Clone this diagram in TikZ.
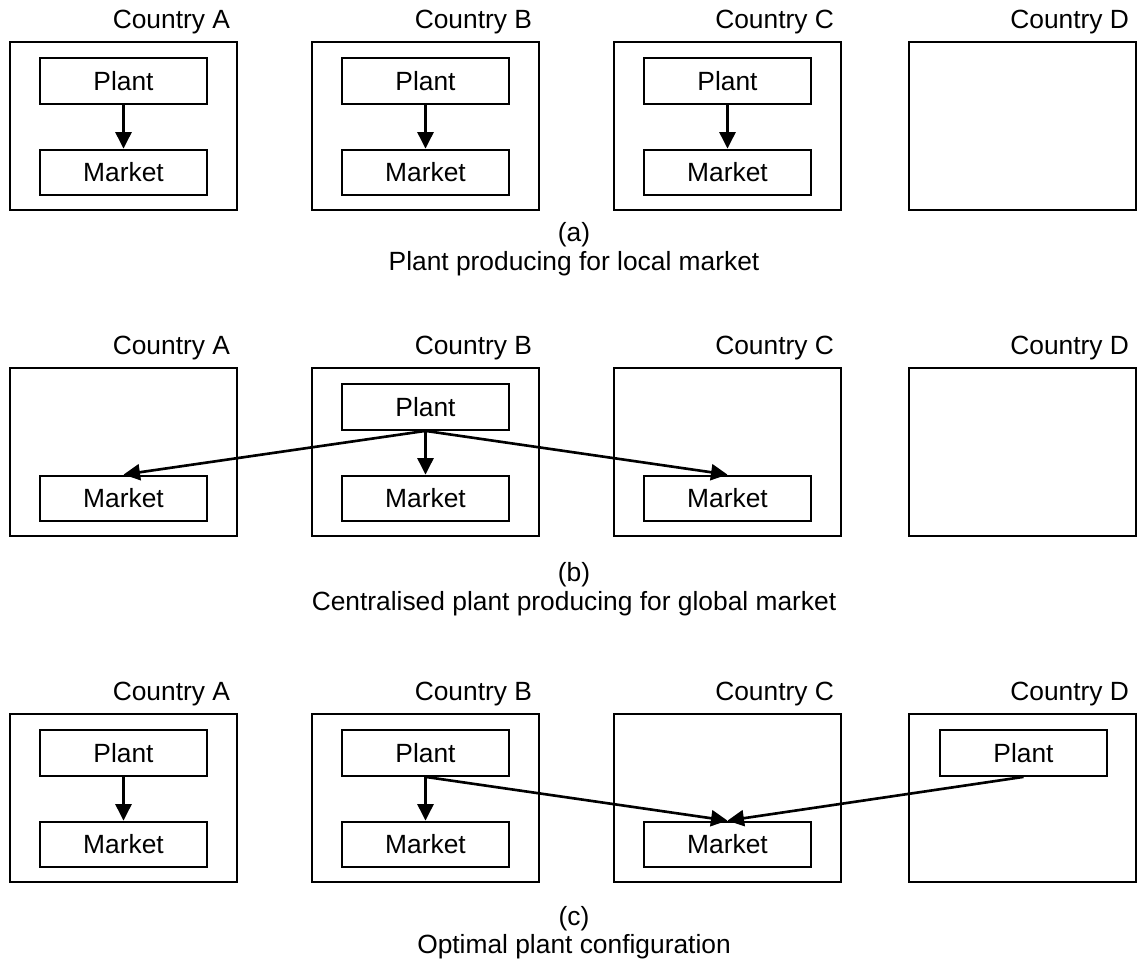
\documentclass[tikz,border=0pt]{standalone}
\usepackage{fontspec}
\setmainfont{Liberation Sans}
\usetikzlibrary{arrows.meta}

\begin{document}
\begin{tikzpicture}[x=0.02cm, y=-0.02cm,
  font=\fontsize{15}{18}\selectfont,
  country/.style={draw, line width=1.5pt, minimum width=4.54cm, minimum height=3.36cm, inner sep=0pt},
  unit/.style={draw, line width=1.3pt, minimum width=3.34cm, minimum height=0.91cm, inner sep=0pt},
  clab/.style={anchor=base east, xshift=-0.16cm, yshift=0.24cm, inner sep=0pt},
  captxt/.style={inner sep=0pt},
  flow/.style={-{Triangle[length=0.33cm, width=0.32cm]}, line width=1.5pt}]

\useasboundingbox (0,0) rectangle (1137,960);

% (a) local plants
\node[country] (aA) at (123.5,126) {};
\node[country] (aB) at (425.5,126) {};
\node[country] (aC) at (727.5,126) {};
\node[country] (aD) at (1022.5,126) {};
\node[clab] at (aA.north east) {Country A};
\node[clab] at (aB.north east) {Country B};
\node[clab] at (aC.north east) {Country C};
\node[clab] at (aD.north east) {Country D};
\node[unit] (aplantA) at (123.5,81) {Plant};
\node[unit] (aplantB) at (425.5,81) {Plant};
\node[unit] (aplantC) at (727.5,81) {Plant};
\node[unit] (amktA) at (123.5,172.5) {Market};
\node[unit] (amktB) at (425.5,172.5) {Market};
\node[unit] (amktC) at (727.5,172.5) {Market};
\draw[flow] (aplantA) -- (amktA);
\draw[flow] (aplantB) -- (amktB);
\draw[flow] (aplantC) -- (amktC);
\node[captxt] (acap) at (574,235) {(a)};
\node[captxt] (atxt) at (574,264) {Plant producing for local market};

% (b) one central plant
\node[country] (bA) at (123.5,452) {};
\node[country] (bB) at (425.5,452) {};
\node[country] (bC) at (727.5,452) {};
\node[country] (bD) at (1022.5,452) {};
\node[clab] at (bA.north east) {Country A};
\node[clab] at (bB.north east) {Country B};
\node[clab] at (bC.north east) {Country C};
\node[clab] at (bD.north east) {Country D};
\node[unit] (bplantB) at (425.5,407) {Plant};
\node[unit] (bmktA) at (123.5,498.5) {Market};
\node[unit] (bmktB) at (425.5,498.5) {Market};
\node[unit] (bmktC) at (727.5,498.5) {Market};
\draw[flow] (bplantB.south) -- (bmktA.north);
\draw[flow] (bplantB.south) -- (bmktB.north);
\draw[flow] (bplantB.south) -- (bmktC.north);
\node[captxt] (bcap) at (574,575) {(b)};
\node[captxt] (btxt) at (574,604) {Centralised plant producing for global market};

% (c) optimal configuration
\node[country] (cA) at (123.5,798) {};
\node[country] (cB) at (425.5,798) {};
\node[country] (cC) at (727.5,798) {};
\node[country] (cD) at (1022.5,798) {};
\node[clab] at (cA.north east) {Country A};
\node[clab] at (cB.north east) {Country B};
\node[clab] at (cC.north east) {Country C};
\node[clab] at (cD.north east) {Country D};
\node[unit] (cplantA) at (123.5,753) {Plant};
\node[unit] (cplantB) at (425.5,753) {Plant};
\node[unit] (cplantD) at (1023.5,753) {Plant};
\node[unit] (cmktA) at (123.5,844.5) {Market};
\node[unit] (cmktB) at (425.5,844.5) {Market};
\node[unit] (cmktC) at (727.5,844.5) {Market};
\draw[flow] (cplantA) -- (cmktA);
\draw[flow] (cplantB) -- (cmktB);
\draw[flow] (cplantB.south) -- (cmktC.north);
\draw[flow] (cplantD.south) -- (cmktC.north);
\node[captxt] (ccap) at (574,919) {(c)};
\node[captxt] (ctxt) at (574,947) {Optimal plant configuration};
\end{tikzpicture}
\end{document}
